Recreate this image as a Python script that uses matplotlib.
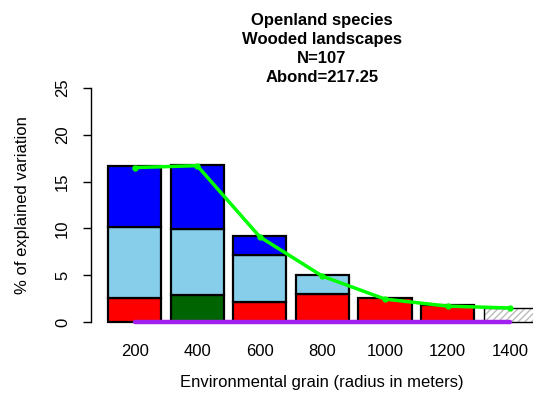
import numpy as np
import matplotlib
matplotlib.use("Agg")
import matplotlib.pyplot as plt

plt.rcParams['font.family'] = ['Liberation Sans', 'DejaVu Sans']

# data
grain = [200, 400, 600, 800, 1000, 1200, 1400]
red_part = [2.56, 0, 2.1, 3.0, 2.6, 1.85, 0]
green_part = [0, 2.9, 0, 0, 0, 0, 0]
lightblue_part = [7.6, 7.0, 5.1, 2.0, 0, 0, 0]
blue_part = [6.55, 6.9, 2.0, 0, 0, 0, 0]
hatched_part = [0, 0, 0, 0, 0, 0, 1.53]
total_line = [16.5, 16.7, 9.1, 4.9, 2.45, 1.7, 1.5]
title_lines = ["Openland species", "Wooded landscapes", "N=107", "Abond=217.25"]

W, H = 533, 401
fs = 12
fig = plt.figure(figsize=(W / 100, H / 100), dpi=100)

# plot region in pixels (it runs past the right edge, as in the reference)
left, right, top, bottom = 90.8, 554, 78.6, 331.4
ax = fig.add_axes([left / W, 1 - bottom / H, (right - left) / W, (bottom - top) / H])

x = np.array(grain)
width = 170
lw = 1.6

bottoms = np.zeros(len(x))
for vals, col in [(red_part, '#FF0000'), (green_part, '#006400'),
                  (lightblue_part, '#87CEEB'), (blue_part, '#0000FF')]:
    vals = np.array(vals)
    mask = vals > 0
    ax.bar(x[mask], vals[mask], width=width, bottom=bottoms[mask], color=col,
           edgecolor='black', linewidth=lw, zorder=2)
    bottoms = bottoms + vals

# hatched bar: grey hatch, thin black outline
hv = np.array(hatched_part)
mask = hv > 0
ax.bar(x[mask], hv[mask], width=width, color='white', edgecolor='#BBBBBB',
       hatch='/////', linewidth=0, zorder=2)
ax.bar(x[mask], hv[mask], width=width, fill=False, edgecolor='black',
       linewidth=1.0, zorder=2)

ax.plot(x, total_line, color='#00FF00', linewidth=2.5, marker='o',
        markersize=3.5, zorder=4)
ax.plot([x[0], x[-1]], [0, 0], color='#A020F0', linewidth=3.2,
        solid_capstyle='round', zorder=5)

ax.set_xlim(60.2, 1539.8)
ax.set_ylim(-1, 26)

for s in ['top', 'right', 'bottom']:
    ax.spines[s].set_visible(False)
ax.spines['left'].set_bounds(0, 25)
ax.spines['left'].set_linewidth(1.0)

ax.set_yticks([0, 5, 10, 15, 20, 25])
ax.set_yticklabels(['0', '5', '10', '15', '20', '25'], rotation=90, va='center')
ax.tick_params(axis='y', length=6, width=1.0, pad=9, labelsize=fs)
ax.set_xticks(grain)
ax.set_xticklabels([str(g) for g in grain])
ax.tick_params(axis='x', length=0, pad=9, labelsize=fs)

fig.text(22.5 / W, 1 - 205 / H, '% of explained variation', rotation=90,
         ha='center', va='center', fontsize=fs)
fig.text(322 / W, 1 - 383 / H, 'Environmental grain (radius in meters)',
         ha='center', va='center', fontsize=fs)

baselines = [24.5, 43.8, 63.2, 82.5]
for line, b in zip(title_lines, baselines):
    fig.text(322 / W, 1 - b / H, line, ha='center', va='baseline',
             fontsize=fs, fontweight='bold')

fig.savefig('out.png', dpi=100)
